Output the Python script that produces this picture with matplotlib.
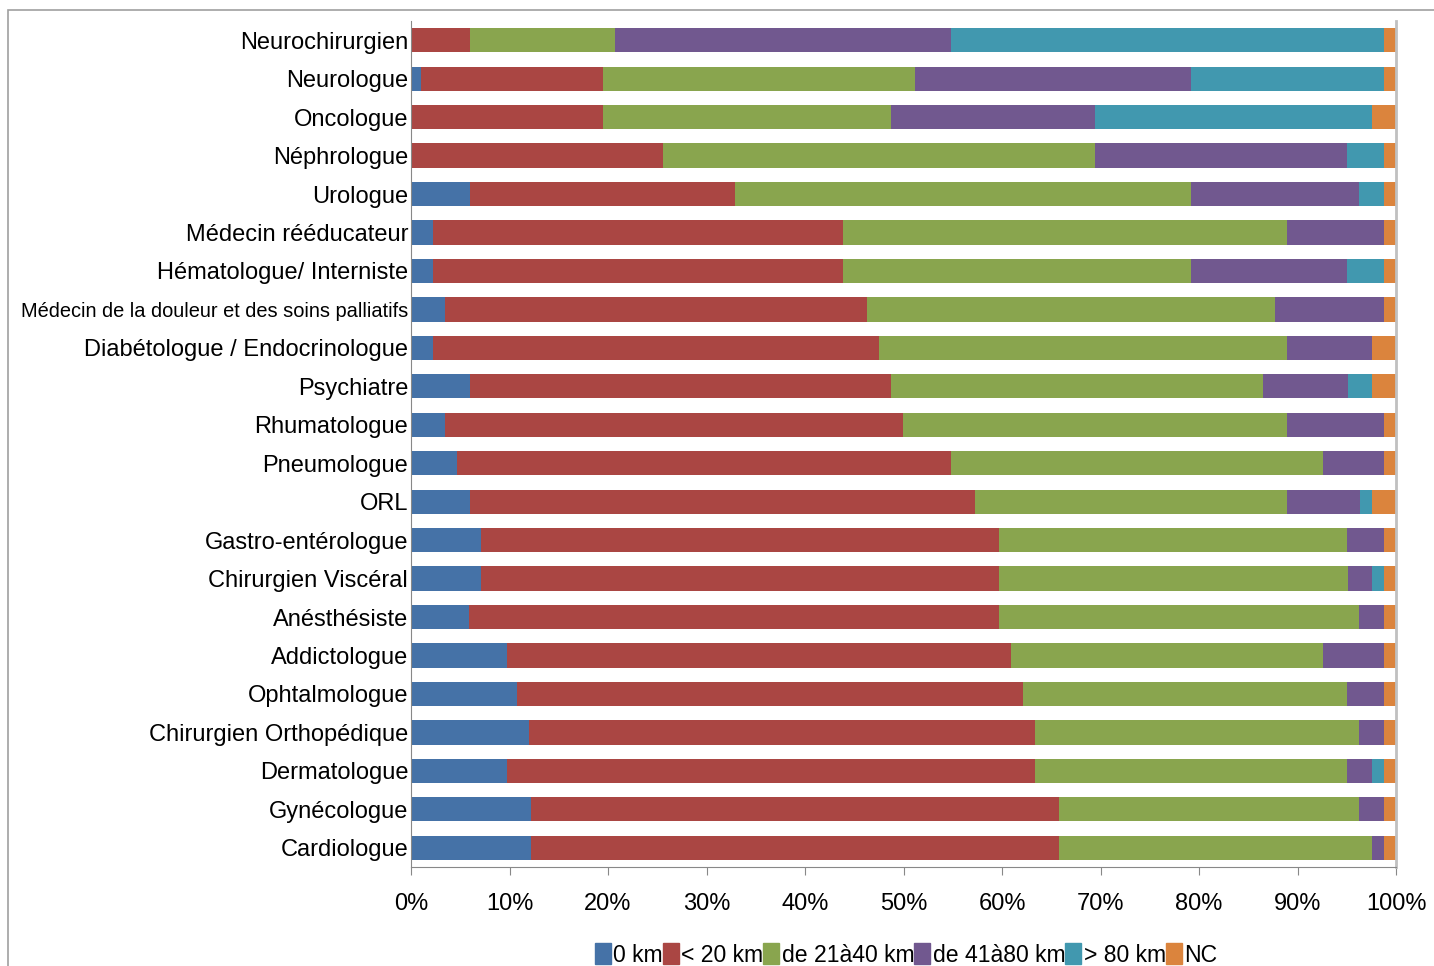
import matplotlib.pyplot as plt
import matplotlib.patches as mpatches
import numpy as np

plt.rcParams['font.family'] = ['Liberation Sans', 'DejaVu Sans']

specialites = [
    "Neurochirurgien", "Neurologue", "Oncologue", "Néphrologue", "Urologue",
    "Médecin rééducateur", "Hématologue/ Interniste",
    "Médecin de la douleur et des soins palliatifs",
    "Diabétologue / Endocrinologue", "Psychiatre", "Rhumatologue",
    "Pneumologue", "ORL", "Gastro-entérologue", "Chirurgien Viscéral",
    "Anésthésiste", "Addictologue", "Ophtalmologue",
    "Chirurgien Orthopédique", "Dermatologue", "Gynécologue", "Cardiologue",
]

km_0 = [0, 1, 0, 0, 6, 2.2, 2.2, 3.5, 2.2, 6, 3.5, 4.7, 6, 7.1, 7.1, 5.9,
        9.7, 10.8, 12, 9.7, 12.2, 12.2]
km_20 = [6, 18.5, 19.5, 25.6, 26.9, 41.7, 41.7, 42.8, 45.3, 42.7, 46.4, 50.1,
         51.3, 52.6, 52.6, 53.8, 51.2, 51.3, 51.4, 53.7, 53.6, 53.6]
km_40 = [14.7, 31.7, 29.2, 43.8, 46.3, 45, 35.3, 41.4, 41.4, 37.8, 39, 37.8,
         31.6, 35.3, 35.4, 36.5, 31.7, 32.9, 32.8, 31.6, 30.4, 31.8]
km_80 = [34.1, 28, 20.7, 25.6, 17, 9.9, 15.8, 11.1, 8.7, 8.6, 9.9, 6.2,
         7.4, 3.8, 2.5, 2.6, 6.2, 3.8, 2.6, 2.6, 2.6, 1.2]
km_plus80 = [44, 19.6, 28.2, 3.8, 2.6, 0, 3.8, 0, 0, 2.5, 0, 0, 1.3, 0, 1.2,
             0, 0, 0, 0, 1.2, 0, 0]
nc = [1.2, 1.2, 2.4, 1.2, 1.2, 1.2, 1.2, 1.2, 2.4, 2.4, 1.2, 1.2, 2.4, 1.2,
      1.2, 1.2, 1.2, 1.2, 1.2, 1.2, 1.2, 1.2]

series = [km_0, km_20, km_40, km_80, km_plus80, nc]
noms = ["0 km", "< 20 km", "de 21à40 km", "de 41à80 km", "> 80 km", "NC"]
couleurs = ["#4572A7", "#AA4643", "#89A54E", "#71588F", "#4198AF", "#DB843D"]

fig = plt.figure(figsize=(14.34, 9.66), dpi=100)
ax = fig.add_axes([411 / 1434, 1 - 867 / 966, 985 / 1434, 846 / 966])

# cadre gris autour du graphique (coupé à droite et en bas)
fig.patches.append(mpatches.Rectangle((8 / 1434, -0.05), 1.2, 1 - 10 / 966 + 0.05,
                                      transform=fig.transFigure, fill=False,
                                      edgecolor="#a0a0a0", linewidth=1.2))

y = np.arange(len(specialites))
gauche = np.zeros(len(specialites))
for vals, nom, c in zip(series, noms, couleurs):
    vals = np.array(vals)
    ax.barh(y, vals, left=gauche, height=0.63, color=c, label=nom)
    gauche += vals

ax.set_ylim(len(specialites) - 0.5, -0.5)
ax.set_xlim(0, 100)
ax.set_yticks(y)
ax.set_yticklabels(specialites, fontsize=17)
for lab in ax.get_yticklabels():
    if lab.get_text().startswith("Médecin de la douleur"):
        lab.set_fontsize(14.4)
ax.tick_params(axis='y', length=0, pad=2)
ax.set_xticks(np.arange(0, 101, 10))
ax.set_xticklabels([f"{v}%" for v in range(0, 101, 10)], fontsize=17)
ax.tick_params(axis='x', direction='out', length=6, color="#888888", pad=13)

ax.spines["top"].set_visible(False)
ax.spines["left"].set_color("#888888")
ax.spines["bottom"].set_color("#888888")
ax.spines["right"].set_color("#c0c0c0")
ax.spines["right"].set_linewidth(2)

handles = [mpatches.Patch(color=c) for c in couleurs]
fig.legend(handles, noms, loc="center", bbox_to_anchor=(906 / 1434, 1 - 955 / 966),
           ncol=6, frameon=False, fontsize=16.6, handlelength=0.7, handleheight=1.0,
           handletextpad=0.1, columnspacing=0.0, borderpad=0)

fig.savefig("out.png", dpi=100)
